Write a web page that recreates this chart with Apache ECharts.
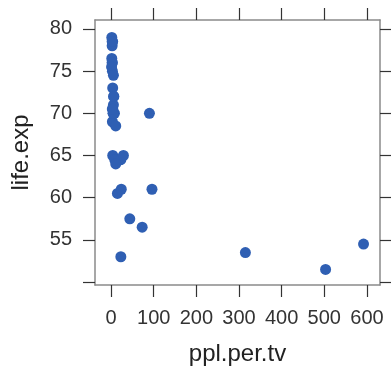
<!DOCTYPE html>
<html>
<head>
<meta charset="utf-8">
<script src="https://cdn.jsdelivr.net/npm/echarts@6/dist/echarts.min.js"></script>
<style>html,body{margin:0;padding:0;background:#fff;}#c{width:391px;height:371px;}</style>
</head>
<body>
<div id="c"></div>
<script>
// people per TV (x) and life expectancy (y), one entry per country
const pplPerTv = [4, 315, 4, 1.7, 8, 5.6, 15, 503, 2.6, 2.6, 44, 24, 23, 3.8, 1.8, 96, 90, 4.9, 6.6, 21, 592, 73, 14, 8.8, 3.9, 6, 3.2, 11, 2.6, 23, 3.2, 11, 5, 3, 3, 1.3, 5.6, 29];
const lifeExp  = [70.5, 53.5, 65, 76.5, 70, 71, 60.5, 51.5, 78, 76, 57.5, 61, 64.5, 78.5, 79, 61, 70, 70, 72, 64.5, 54.5, 56.5, 64.5, 64.5, 73, 72, 69, 64, 78.5, 53, 75, 68.5, 70, 70.5, 76, 75.5, 74.5, 65];
const xTicks = [0, 100, 200, 300, 400, 500, 600];
const yTicks = [50, 55, 60, 65, 70, 75, 80];
const yLabels = [55, 60, 65, 70, 75, 80];

const pts = pplPerTv.map((v, i) => [v, lifeExp[i]]);
const font = 'Liberation Sans, Arial, Helvetica, sans-serif';
const boxLine = {show: true, onZero: false, lineStyle: {color: '#8a8a8a', width: 1.5}};
const tick = (vals) => ({show: true, inside: false, length: 12, customValues: vals, lineStyle: {color: '#333', width: 1.2}});
const xMin = -37.6, xMax = 630.6, yMin = 49.65, yMax = 81.06;

const chart = echarts.init(document.getElementById('c'), null, {renderer: 'canvas'});
chart.setOption({
  animation: false,
  backgroundColor: '#fff',
  grid: {left: 95, top: 20, right: 11, bottom: 84, containLabel: false},
  xAxis: [
    {type: 'value', position: 'bottom', min: xMin, max: xMax,
     name: 'ppl.per.tv', nameLocation: 'middle', nameGap: 57,
     nameTextStyle: {fontFamily: font, fontSize: 24, color: '#222'},
     axisLine: boxLine, axisTick: tick(xTicks),
     axisLabel: {show: true, customValues: xTicks, margin: 23, fontFamily: font, fontSize: 20, color: '#333'},
     splitLine: {show: false}},
    {type: 'value', position: 'top', min: xMin, max: xMax,
     axisLine: boxLine, axisTick: tick(xTicks),
     axisLabel: {show: false}, splitLine: {show: false}}
  ],
  yAxis: [
    {type: 'value', position: 'left', min: yMin, max: yMax,
     name: 'life.exp', nameLocation: 'middle', nameGap: 62, nameRotate: 90,
     nameTextStyle: {fontFamily: font, fontSize: 24, color: '#222'},
     axisLine: boxLine, axisTick: tick(yTicks),
     axisLabel: {show: true, customValues: yLabels, margin: 23, fontFamily: font, fontSize: 20, color: '#333'},
     splitLine: {show: false}},
    {type: 'value', position: 'right', min: yMin, max: yMax,
     axisLine: boxLine, axisTick: tick(yTicks),
     axisLabel: {show: false}, splitLine: {show: false}}
  ],
  series: [{
    type: 'scatter',
    xAxisIndex: 0, yAxisIndex: 0,
    data: pts,
    symbol: 'circle',
    symbolSize: 11,
    itemStyle: {color: '#2f5fb3', opacity: 1}
  }]
});
</script>
</body>
</html>
